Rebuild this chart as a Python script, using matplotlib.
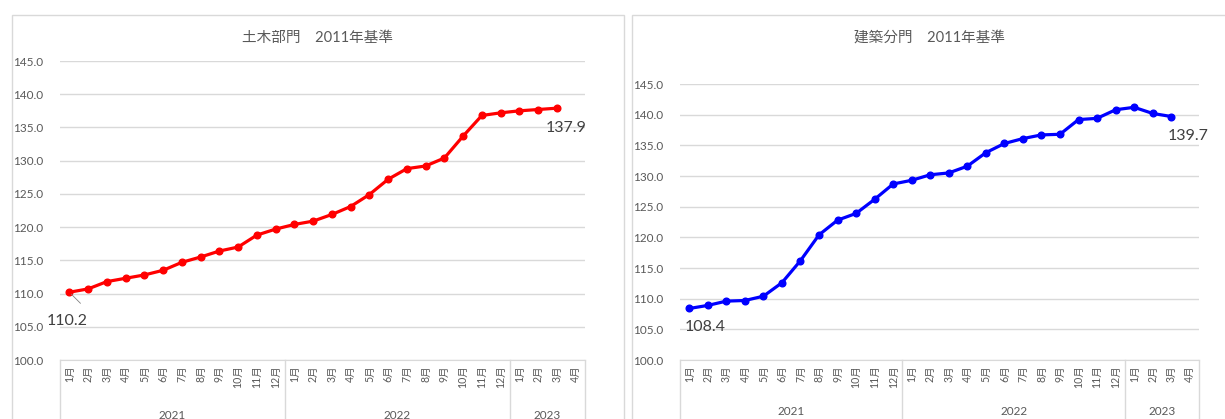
import matplotlib
matplotlib.use("Agg")
import matplotlib.pyplot as plt
import matplotlib.transforms as mtrans
from matplotlib.patches import Rectangle
import numpy as np

plt.rcParams['font.family'] = ['Lato', 'Noto Sans CJK JP', 'DejaVu Sans']

# monthly index, Jan 2021 - Mar 2023 (2011 = 100)
months = ['1月', '2月', '3月', '4月', '5月', '6月', '7月', '8月', '9月', '10月', '11月', '12月'] * 2 \
    + ['1月', '2月', '3月', '4月']
years = ['2021', '2022', '2023']
year_spans = [(0, 12), (12, 24), (24, 28)]

civil = [110.2, 110.7, 111.8, 112.3, 112.8, 113.5, 114.7, 115.5, 116.4, 117.0, 118.8, 119.7,
         120.4, 120.9, 121.9, 123.1, 124.9, 127.2, 128.8, 129.2, 130.4, 133.7, 136.8, 137.2,
         137.5, 137.7, 137.9]
building = [108.4, 108.9, 109.6, 109.7, 110.4, 112.6, 116.2, 120.4, 122.8, 123.9, 126.2, 128.7,
            129.3, 130.2, 130.5, 131.6, 133.8, 135.3, 136.1, 136.7, 136.8, 139.2, 139.4, 140.8,
            141.2, 140.2, 139.7]

W, H = 1225, 419
fig = plt.figure(figsize=(W / 100, H / 100), dpi=100)

GRID = '#d9d9d9'
TXT = '#595959'


def px_axes(x0, y0, x1, y1):
    # pixel box (top-left origin) -> figure axes
    return fig.add_axes([x0 / W, 1 - y1 / H, (x1 - x0) / W, (y1 - y0) / H])


def panel(x0, y0, x1, y1):
    fig.patches.append(Rectangle((x0 / W, 1 - y1 / H), (x1 - x0) / W, (y1 - y0) / H,
                                 transform=fig.transFigure, fill=False,
                                 edgecolor=GRID, linewidth=1.0))


def draw_chart(ax, values, color, title, title_xy, first_off, last_off, leader=False):
    x = np.arange(len(values))
    ax.plot(x, values, color=color, lw=2.3, marker='o', ms=4.8, zorder=3, clip_on=False)

    ax.set_xlim(-0.5, len(months) - 0.5)
    ax.set_ylim(100, 145)
    ax.set_yticks(np.arange(100, 146, 5))
    ax.yaxis.set_major_formatter(matplotlib.ticker.FormatStrFormatter('%.1f'))
    ax.grid(axis='y', color=GRID, lw=1.0)
    ax.set_axisbelow(True)
    for s in ['top', 'right', 'left']:
        ax.spines[s].set_visible(False)
    ax.spines['bottom'].set_color(GRID)
    ax.tick_params(axis='y', length=0, pad=12, labelsize=8.5, labelcolor=TXT)

    ax.set_xticks(np.arange(len(months)))
    ax.set_xticklabels(months, rotation=90, fontsize=7.6, color=TXT, va='top', ha='center')
    ax.tick_params(axis='x', length=0, pad=4)

    # two-level category axis: year separators and year labels
    tr = mtrans.blended_transform_factory(ax.transData, ax.transAxes)
    for a, b in year_spans:
        ax.plot([a - 0.5, a - 0.5], [0, -0.3], transform=tr, color=GRID, lw=1.0, clip_on=False)
    ax.plot([len(months) - 0.5] * 2, [0, -0.3], transform=tr, color=GRID, lw=1.0, clip_on=False)
    for yr, (a, b) in zip(years, year_spans):
        ax.text((a + b - 1) / 2, -0.185, yr, transform=tr, ha='center', va='center',
                fontsize=8.5, color=TXT)

    fig.text(title_xy[0] / W, 1 - title_xy[1] / H, title, ha='center', va='center',
             fontsize=10.5, color=TXT)

    ax.annotate(f'{values[0]:.1f}', xy=(0, values[0]), xytext=first_off,
                textcoords='offset points', ha='center', va='center', fontsize=11.5, color='#404040')
    ax.annotate(f'{values[-1]:.1f}', xy=(len(values) - 1, values[-1]), xytext=last_off,
                textcoords='offset points', ha='center', va='center', fontsize=11.5, color='#404040')
    if leader:
        ax.annotate('', xy=(0, values[0]), xytext=(8, -8), textcoords='offset points',
                    arrowprops=dict(arrowstyle='-', color='#808080', lw=0.6,
                                    shrinkA=0, shrinkB=2))


panel(12, 15, 624, 440)
panel(632, 15, 1240, 440)

ax1 = px_axes(60, 61, 585, 360)
draw_chart(ax1, civil, '#ff0000', '土木部門　2011年基準', (318, 38),
           first_off=(-1.5, -21), last_off=(6.5, -14.5), leader=True)

ax2 = px_axes(680, 84, 1199, 360)
draw_chart(ax2, building, '#0000ff', '建築分門　2011年基準', (930, 38),
           first_off=(11.5, -13.5), last_off=(12, -14))

fig.savefig('out.png', dpi=100)
